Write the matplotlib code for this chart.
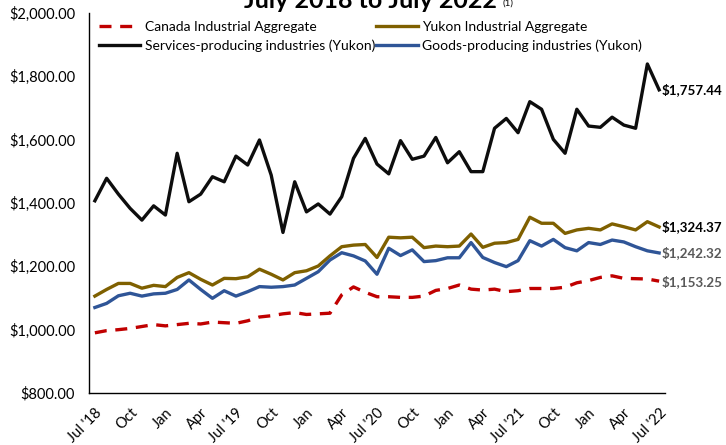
import matplotlib

matplotlib.use("Agg")
import matplotlib.pyplot as plt
import numpy as np

plt.rcParams["font.family"] = ["Lato", "DejaVu Sans"]

# monthly series, Jul 2018 .. Jul 2022
months = [
    "Jul '18", "Aug", "Sep", "Oct", "Nov", "Dec", "Jan", "Feb", "Mar", "Apr", "May", "Jun",
    "Jul '19", "Aug", "Sep", "Oct", "Nov", "Dec", "Jan", "Feb", "Mar", "Apr", "May", "Jun",
    "Jul '20", "Aug", "Sep", "Oct", "Nov", "Dec", "Jan", "Feb", "Mar", "Apr", "May", "Jun",
    "Jul '21", "Aug", "Sep", "Oct", "Nov", "Dec", "Jan", "Feb", "Mar", "Apr", "May", "Jun",
    "Jul '22",
]

canada = [
    990, 997, 1000, 1004, 1010, 1016, 1012, 1016, 1020, 1018, 1024, 1022,
    1020, 1028, 1040, 1044, 1050, 1054, 1048, 1050, 1052, 1110, 1135, 1118,
    1104, 1104, 1102, 1102, 1106, 1124, 1130, 1141, 1128, 1125, 1128, 1120,
    1123, 1130, 1130, 1130, 1134, 1148, 1155, 1165, 1170, 1162, 1161, 1160,
    1153.25,
]
yukon = [
    1106, 1127, 1146, 1146, 1131, 1140, 1136, 1165, 1180, 1159, 1141, 1162,
    1161, 1167, 1191, 1175, 1157, 1180, 1186, 1201, 1233, 1262, 1267, 1269,
    1228, 1292, 1290, 1292, 1259, 1264, 1262, 1264, 1302, 1260, 1273, 1275,
    1285, 1355, 1336, 1336, 1304, 1315, 1320, 1315, 1334, 1325, 1315, 1341,
    1324.37,
]
services = [
    1407, 1478, 1428, 1383, 1346, 1391, 1362, 1557, 1404, 1428, 1483, 1467,
    1548, 1520, 1599, 1488, 1307, 1467, 1372, 1397, 1365, 1420, 1541, 1604,
    1523, 1492, 1597, 1538, 1548, 1607, 1527, 1562, 1499, 1499, 1636, 1667,
    1622, 1720, 1696, 1601, 1557, 1696, 1643, 1639, 1671, 1646, 1636, 1839,
    1757.44,
]
goods = [
    1070, 1083, 1107, 1115, 1106, 1113, 1115, 1127, 1157, 1127, 1099, 1123,
    1106, 1120, 1136, 1134, 1136, 1141, 1162, 1183, 1220, 1243, 1233, 1217,
    1175, 1257, 1234, 1252, 1215, 1218, 1227, 1227, 1275, 1228, 1212, 1199,
    1218, 1281, 1264, 1285, 1259, 1249, 1275, 1269, 1283, 1277, 1262, 1249,
    1242.32,
]

x = np.arange(len(months))

fig = plt.figure(figsize=(7.26, 4.45), dpi=100)
ax = fig.add_axes([89 / 726, 1 - 393 / 445, 576 / 726, 380 / 445])

lw = 2.4
ax.plot(x, canada, color="#C00000", lw=lw, dashes=(3.6, 2.6),
        label="Canada Industrial Aggregate")
ax.plot(x, yukon, color="#7F6000", lw=lw, label="Yukon Industrial Aggregate")
ax.plot(x, services, color="#0D0D0D", lw=lw,
        label="Services-producing industries (Yukon)")
ax.plot(x, goods, color="#2F5597", lw=lw,
        label="Goods-producing industries (Yukon)")

# end-of-series value labels
for vals, col in [(services, "#000000"), (yukon, "#000000"),
                  (goods, "#595959"), (canada, "#595959")]:
    ax.annotate(f"${vals[-1]:,.2f}", xy=(x[-1], vals[-1]), xytext=(2, 0),
                textcoords="offset points", va="center", ha="left",
                fontsize=9.6, fontweight="bold", color=col,
                annotation_clip=False)

ax.set_xlim(-0.5, len(months) - 0.5)
ax.set_ylim(800, 2000)
ax.set_yticks(np.arange(800, 2001, 200))
ax.set_yticklabels([f"${v:,.2f}" for v in np.arange(800, 2001, 200)])
ax.set_xticks(x[::3])
ax.set_xticklabels(months[::3], rotation=45, ha="right", va="top",
                   rotation_mode="anchor")
ax.tick_params(axis="both", length=0, labelsize=10.5, colors="#000000")
ax.tick_params(axis="y", pad=10)
ax.tick_params(axis="x", pad=9)

for side in ["top", "right"]:
    ax.spines[side].set_visible(False)
for side in ["left", "bottom"]:
    ax.spines[side].set_color("#000000")
    ax.spines[side].set_linewidth(1.0)

# legend order: Canada, Yukon / Services, Goods (row-wise)
h, l = ax.get_legend_handles_labels()
order = [0, 2, 1, 3]
ax.legend([h[i] for i in order], [l[i] for i in order], ncol=2,
          loc="upper left", bbox_to_anchor=(0.0, 1.005), frameon=False,
          fontsize=10, handlelength=3.0, handletextpad=0.3,
          columnspacing=0.1, labelspacing=0.45, borderaxespad=0.3)

# title sits partly above the top edge, as in the original
fig.text(370 / 726, 0.998, "July 2018 to July 2022", ha="center", va="center",
         fontsize=18, fontweight="bold")
fig.text(503 / 726, 0.994, "(1)", ha="left", va="center", fontsize=7)

fig.savefig("out.png", dpi=100)
